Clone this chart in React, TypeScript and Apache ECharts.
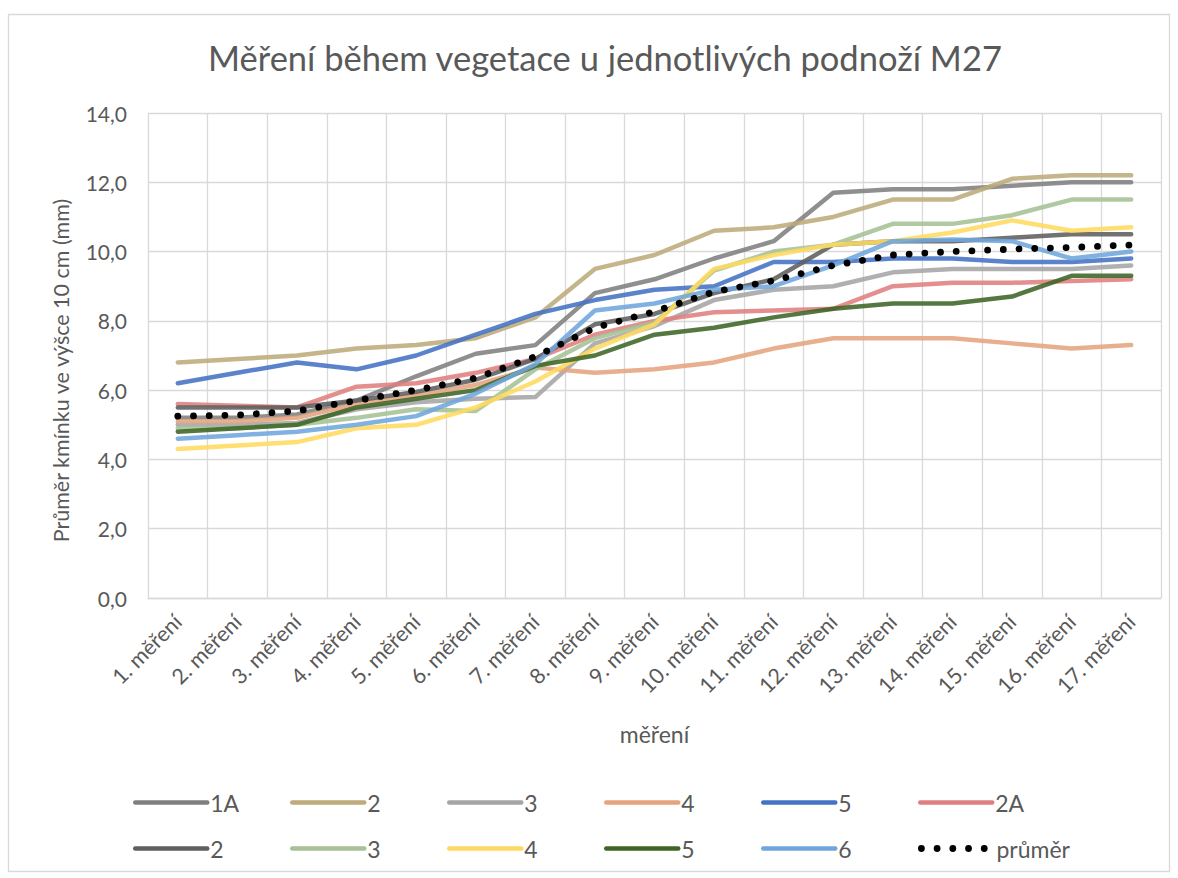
import React, { useEffect, useRef } from "react";
import * as echarts from "echarts";

const FONT = "Lato";
const TEXT = "#595959";
const GRID = "#d9d9d9";

const categories = [
  "1. měření", "2. měření", "3. měření", "4. měření", "5. měření", "6. měření",
  "7. měření", "8. měření", "9. měření", "10. měření", "11. měření", "12. měření",
  "13. měření", "14. měření", "15. měření", "16. měření", "17. měření",
];

const s1A = [5.2, 5.2, 5.3, 5.7, 6.4, 7.05, 7.3, 8.8, 9.2, 9.8, 10.3, 11.7, 11.8, 11.8, 11.9, 12.0, 12.0];
const s2 = [6.8, 6.9, 7.0, 7.2, 7.3, 7.5, 8.1, 9.5, 9.9, 10.6, 10.7, 11.0, 11.5, 11.5, 12.1, 12.2, 12.2];
const s3 = [5.0, 5.0, 5.05, 5.45, 5.65, 5.75, 5.8, 7.35, 7.85, 8.6, 8.9, 9.0, 9.4, 9.5, 9.5, 9.5, 9.6];
const s4 = [5.1, 5.1, 5.2, 5.6, 5.85, 6.15, 6.65, 6.5, 6.6, 6.8, 7.2, 7.5, 7.5, 7.5, 7.35, 7.2, 7.3];
const s5 = [6.2, 6.5, 6.8, 6.6, 7.0, 7.6, 8.2, 8.6, 8.9, 9.0, 9.7, 9.7, 9.8, 9.8, 9.7, 9.7, 9.8];
const s2A = [5.6, 5.55, 5.5, 6.1, 6.2, 6.5, 6.9, 7.6, 8.0, 8.25, 8.3, 8.35, 9.0, 9.1, 9.1, 9.15, 9.2];
const s2b = [5.5, 5.5, 5.5, 5.7, 5.95, 6.3, 6.9, 7.9, 8.2, 8.8, 9.2, 10.2, 10.3, 10.3, 10.4, 10.5, 10.5];
const s3b = [4.9, 4.9, 5.0, 5.2, 5.45, 5.4, 6.6, 7.5, 7.95, 9.45, 10.0, 10.2, 10.8, 10.8, 11.05, 11.5, 11.5];
const s4b = [4.3, 4.4, 4.5, 4.9, 5.0, 5.5, 6.25, 7.2, 7.9, 9.5, 9.9, 10.2, 10.3, 10.55, 10.9, 10.6, 10.7];
const s5b = [4.8, 4.9, 5.0, 5.5, 5.75, 6.0, 6.7, 7.0, 7.6, 7.8, 8.1, 8.35, 8.5, 8.5, 8.7, 9.3, 9.3];
const s6 = [4.6, 4.7, 4.8, 5.0, 5.25, 5.9, 6.75, 8.3, 8.5, 8.9, 9.0, 9.6, 10.3, 10.35, 10.3, 9.8, 10.0];
const sAvg = [5.25, 5.28, 5.4, 5.7, 6.0, 6.35, 6.97, 7.8, 8.27, 8.84, 9.16, 9.6, 9.9, 10.0, 10.07, 10.12, 10.19];

const yTicks = { min: 0, max: 14, interval: 2 };

const seriesDefs = [
  { id: "1A", label: "1A", data: s1A, color: "#7f7f7f" },
  { id: "2a", label: "2", data: s2, color: "#bdab7b" },
  { id: "3a", label: "3", data: s3, color: "#a5a5a5" },
  { id: "4a", label: "4", data: s4, color: "#e5a47e" },
  { id: "5a", label: "5", data: s5, color: "#4472c4" },
  { id: "2A", label: "2A", data: s2A, color: "#e07f7f" },
  { id: "2b", label: "2", data: s2b, color: "#5f5f5f" },
  { id: "3b", label: "3", data: s3b, color: "#a6c196" },
  { id: "4b", label: "4", data: s4b, color: "#ffd95f" },
  { id: "5b", label: "5", data: s5b, color: "#3e6526" },
  { id: "6b", label: "6", data: s6, color: "#6fa6dc" },
];

export default function App() {
  const ref = useRef<HTMLDivElement>(null);
  useEffect(() => {
    if (!ref.current) return;
    const chart = echarts.init(ref.current, null, { renderer: "svg" });
    const labelMap: Record<string, string> = {};
    seriesDefs.forEach((s) => (labelMap[s.id] = s.label));
    labelMap["avg"] = "průměr";

    const series: any[] = seriesDefs.map((s) => ({
      name: s.id,
      type: "line",
      data: s.data,
      symbol: "none",
      showSymbol: false,
      color: s.color,
      lineStyle: { color: s.color, width: 4.5, opacity: 0.88, cap: "round", join: "round" },
      emphasis: { disabled: true },
    }));
    series.push({
      name: "avg",
      type: "line",
      data: sAvg,
      symbol: "none",
      showSymbol: false,
      color: "#000",
      lineStyle: { color: "#000", width: 6.8, type: [0.01, 15.7], cap: "round" },
      emphasis: { disabled: true },
      z: 5,
    });

    const names = [...seriesDefs.map((s) => s.id), "avg"];
    const legends = names.map((n, i) => ({
      left: 133 + (i % 6) * 157,
      top: i < 6 ? 791 : 837,
      itemWidth: 72,
      itemHeight: 14,
      itemGap: 0,
      padding: 0,
      selectedMode: false,
      data: [n],
      formatter: (name: string) => labelMap[name],
      itemStyle: { opacity: 0 },
      lineStyle: { width: "inherit", type: "inherit", cap: "inherit", opacity: 1 },
      textStyle: { fontFamily: FONT, fontSize: 23, color: TEXT, padding: [0, 0, 0, -2] },
    }));

    chart.setOption({
      animation: false,
      backgroundColor: "#fff",
      title: {
        text: "Měření během vegetace u jednotlivých podnoží M27",
        left: 600,
        textAlign: "center",
        top: 35,
        textStyle: { fontFamily: FONT, fontSize: 34.5, fontWeight: "normal", color: TEXT },
      },
      graphic: [
        {
          type: "rect",
          silent: true,
          z: -10,
          shape: { x: 8.5, y: 14.5, width: 1161, height: 857 },
          style: { fill: "none", stroke: GRID, lineWidth: 1.3 },
        },
      ],
      legend: legends,
      grid: { left: 148, top: 113, right: 17, bottom: 280, containLabel: false },
      xAxis: {
        type: "category",
        data: categories,
        boundaryGap: true,
        name: "měření",
        nameLocation: "middle",
        nameGap: 124,
        nameTextStyle: { fontFamily: FONT, fontSize: 23, color: TEXT },
        axisLine: { show: true, lineStyle: { color: GRID, width: 1.3 } },
        axisTick: { show: false },
        splitLine: { show: true, lineStyle: { color: GRID, width: 1.3 } },
        axisLabel: {
          rotate: 45,
          interval: 0,
          margin: 20,
          fontFamily: FONT,
          fontSize: 21.5,
          color: TEXT,
        },
      },
      yAxis: {
        type: "value",
        min: yTicks.min,
        max: yTicks.max,
        interval: yTicks.interval,
        name: "Průměr kmínku ve výšce 10 cm (mm)",
        nameLocation: "middle",
        nameGap: 76,
        nameRotate: 90,
        nameTextStyle: { fontFamily: FONT, fontSize: 21.5, color: TEXT, padding: [0, 30, 0, 0] },
        axisLine: { show: false },
        axisTick: { show: false },
        splitLine: { show: true, lineStyle: { color: GRID, width: 1.3 } },
        axisLabel: {
          margin: 21,
          fontFamily: FONT,
          fontSize: 21,
          color: TEXT,
          formatter: (v: number) => v.toFixed(1).replace(".", ","),
        },
      },
      series,
    });
    return () => chart.dispose();
  }, []);
  return (
    <div
      ref={ref}
      style={{ position: "fixed", left: 0, top: 0, width: 1178, height: 878 }}
    />
  );
}
